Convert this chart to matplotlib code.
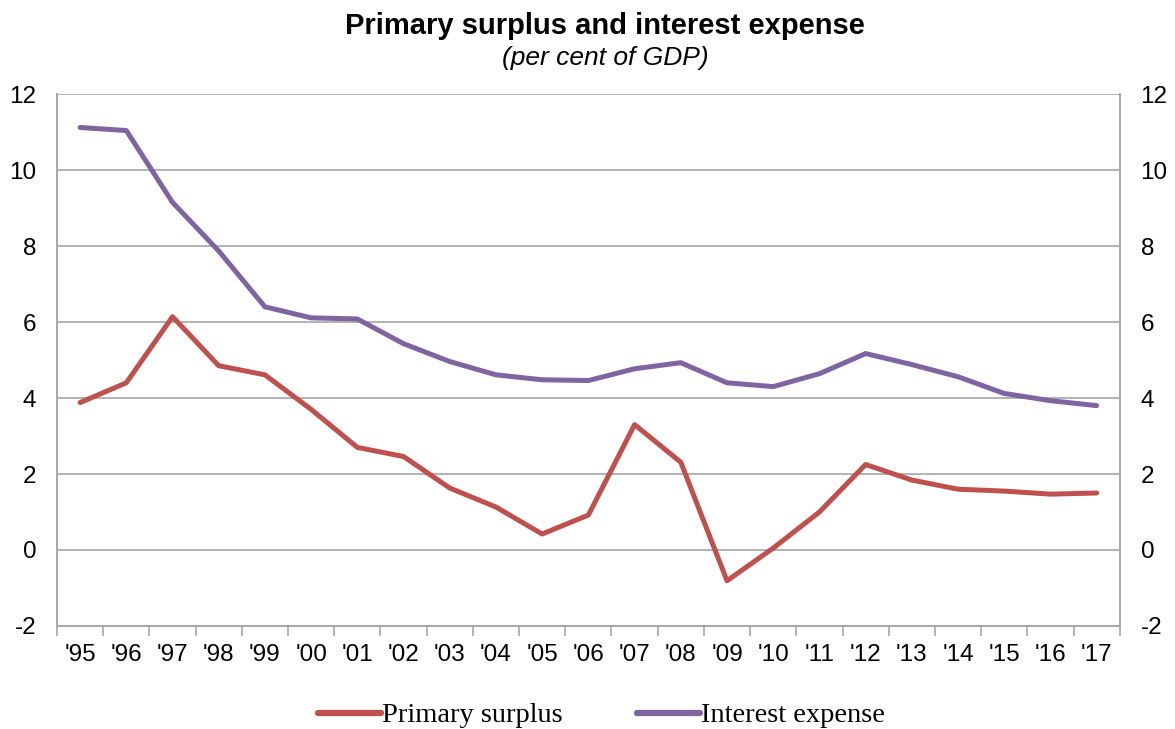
import numpy as np
import matplotlib.pyplot as plt

years = ["'95", "'96", "'97", "'98", "'99", "'00", "'01", "'02", "'03", "'04", "'05", "'06",
         "'07", "'08", "'09", "'10", "'11", "'12", "'13", "'14", "'15", "'16", "'17"]
primary_surplus = [3.88, 4.40, 6.14, 4.85, 4.61, 3.70, 2.70, 2.46, 1.63, 1.13, 0.42, 0.92,
                   3.30, 2.31, -0.81, 0.05, 1.00, 2.25, 1.84, 1.60, 1.55, 1.47, 1.50]
interest_expense = [11.12, 11.04, 9.15, 7.87, 6.40, 6.11, 6.08, 5.43, 4.96, 4.61, 4.48, 4.46,
                    4.77, 4.93, 4.40, 4.30, 4.64, 5.17, 4.88, 4.56, 4.12, 3.93, 3.80]
yticks = [-2, 0, 2, 4, 6, 8, 10, 12]

plt.rcParams['font.family'] = ['Liberation Sans', 'DejaVu Sans']
grey = '#a6a6a6'

fig = plt.figure(figsize=(11.75, 7.29), dpi=100)
ax = fig.add_axes([0.0485, 0.1413, 0.9045, 0.7297])

x = np.arange(len(years))
ax.plot(x, primary_surplus, color='#c0504d', lw=3.6, solid_capstyle='round',
        solid_joinstyle='round', label='Primary surplus')
ax.plot(x, interest_expense, color='#8064a2', lw=3.6, solid_capstyle='round',
        solid_joinstyle='round', label='Interest expense')

ax.set_xlim(-0.5, len(years) - 0.5)
ax.set_ylim(-2, 12)
ax.set_yticks(yticks)
ax.set_yticklabels([str(v) for v in yticks], fontsize=17.5)
ax.tick_params(axis='y', length=0, pad=15)
ax.yaxis.grid(True, color=grey, lw=1.2)
ax.set_axisbelow(True)

ax.set_xticks(x)
ax.set_xticklabels(years, fontsize=17.5)
ax.set_xticks(np.arange(-0.5, len(years)), minor=True)
ax.tick_params(axis='x', which='major', length=0, pad=13)
ax.tick_params(axis='x', which='minor', length=7, width=1.2, color=grey)

ax2 = ax.twinx()
ax2.set_ylim(-2, 12)
ax2.set_yticks(yticks)
ax2.set_yticklabels([str(v) for v in yticks], fontsize=17.5)
ax2.tick_params(axis='y', length=0, pad=15)

for a in (ax, ax2):
    a.spines['top'].set_visible(False)
    for s in ('left', 'right', 'bottom'):
        a.spines[s].set_color(grey)
        a.spines[s].set_linewidth(1.2)

fig.text(0.515, 0.965, 'Primary surplus and interest expense', ha='center', va='center',
         fontsize=21, fontweight='bold')
fig.text(0.515, 0.921, '(per cent of GDP)', ha='center', va='center',
         fontsize=19, style='italic')

fig.legend(loc='center', bbox_to_anchor=(0.512, 0.018), ncol=2, frameon=False,
           prop={'family': 'Liberation Serif', 'size': 20.5}, handlelength=2.2,
           handletextpad=0.05, columnspacing=2.6, handleheight=0.5)
for line in fig.legends[0].get_lines():
    line.set_linewidth(4.5)

fig.savefig('out.png', dpi=100)
